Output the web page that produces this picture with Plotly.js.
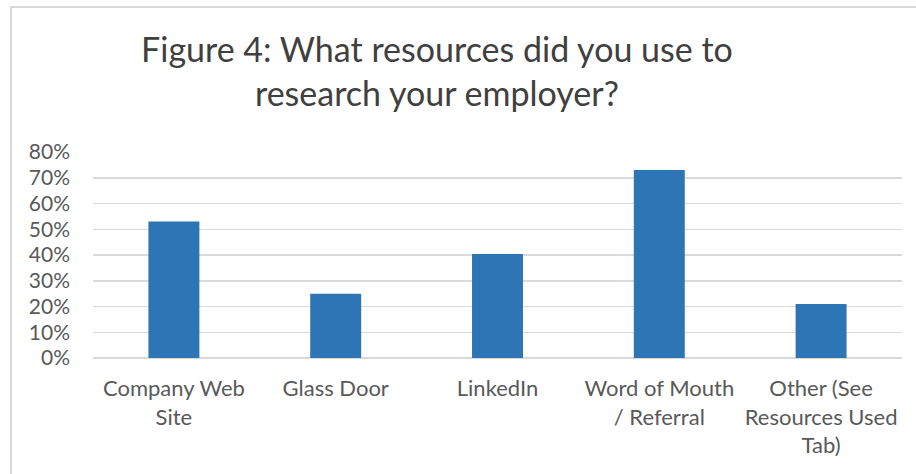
<!DOCTYPE html>
<html>
<head>
<meta charset="utf-8">
<script src="https://cdn.plot.ly/plotly-3.0.1.min.js"></script>
<style>
html,body{margin:0;padding:0;background:#fff;}
#wrap{position:relative;width:916px;height:474px;overflow:hidden;}
#chart{position:absolute;left:0;top:0;width:916px;height:474px;}
#frame{position:absolute;left:10px;top:6px;width:920px;height:480px;border-left:2px solid #d9d9d9;border-top:2px solid #d9d9d9;pointer-events:none;}
</style>
</head>
<body>
<div id="wrap"><div id="chart"></div><div id="frame"></div></div>
<script>
const categories = ["Company Web<br>Site", "Glass Door", "LinkedIn", "Word of Mouth<br>/ Referral", "Other (See<br>Resources Used<br>Tab)"];
const shares = [0.53, 0.25, 0.404, 0.73, 0.21];
const yTicks = [0, 0.1, 0.2, 0.3, 0.4, 0.5, 0.6, 0.7, 0.8];
const yTickLabels = ["0%", "10%", "20%", "30%", "40%", "50%", "60%", "70%", "80%"];
const titleText = "Figure 4: What resources did you use to<br>research your employer?";

const FONT = "Lato, 'Noto Sans', sans-serif";

Plotly.newPlot("chart", [{
  type: "bar",
  x: categories,
  y: shares,
  marker: {color: "#2E75B6"},
  hoverinfo: "skip"
}], {
  width: 916,
  height: 474,
  margin: {l: 93, r: 14, t: 152, b: 116},
  paper_bgcolor: "#fff",
  plot_bgcolor: "#fff",
  bargap: 0.685,
  showlegend: false,
  title: {
    text: titleText,
    font: {family: FONT, size: 34, color: "#404040"},
    xref: "container", x: 0.477, xanchor: "center",
    yref: "container", y: 0.87, yanchor: "top"
  },
  xaxis: {
    tickfont: {family: FONT, size: 22, color: "#595959"},
    showgrid: false,
    showline: false,
    zeroline: false,
    ticks: "",
    ticklabelstandoff: 15,
    fixedrange: true
  },
  yaxis: {
    range: [0, 0.8],
    tickvals: yTicks,
    ticktext: yTickLabels,
    tickfont: {family: FONT, size: 21, color: "#595959"},
    showgrid: true,
    gridcolor: "#d9d9d9",
    gridwidth: 1.5,
    zeroline: true,
    zerolinecolor: "#d9d9d9",
    zerolinewidth: 1.5,
    showline: false,
    ticks: "",
    ticklabelstandoff: 22,
    fixedrange: true
  }
}, {displayModeBar: false, staticPlot: true});
</script>
</body>
</html>
